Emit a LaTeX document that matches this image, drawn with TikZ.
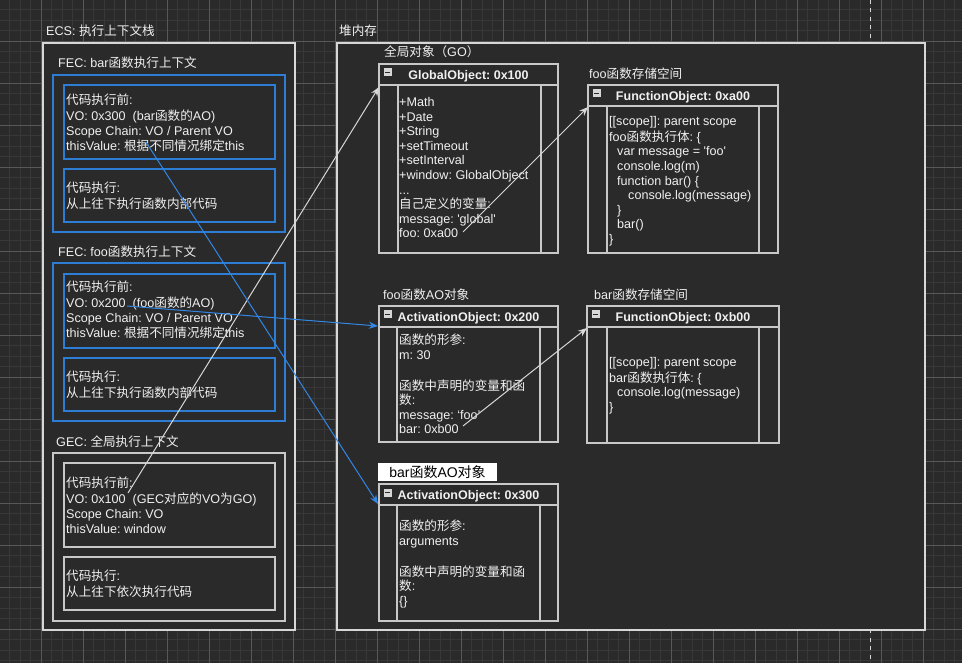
\documentclass[tikz,border=0pt]{standalone}
\usepackage{fontspec}
\setmainfont{Liberation Sans}
\newfontfamily\cjkfont{Noto Sans CJK SC}
\newfontfamily\latfont{Liberation Sans}
\usetikzlibrary{arrows.meta}
\frenchspacing
% automatic switch to the CJK font
\XeTeXinterchartokenstate=1
\newXeTeXintercharclass\cjkcls
\newcount\cjkc
\cjkc="3000
\loop
  \XeTeXcharclass\cjkc=\cjkcls
  \advance\cjkc by 1
\ifnum\cjkc<"A000 \repeat
\cjkc="FF00
\loop
  \XeTeXcharclass\cjkc=\cjkcls
  \advance\cjkc by 1
\ifnum\cjkc<"FFF0 \repeat
\XeTeXinterchartoks 0 \cjkcls = {\cjkfont}
\XeTeXinterchartoks 4095 \cjkcls = {\cjkfont}
\XeTeXinterchartoks \cjkcls 0 = {\latfont}
\XeTeXinterchartoks \cjkcls 4095 = {\latfont}

\definecolor{bg}{RGB}{42,42,42}
\definecolor{gridminor}{RGB}{56,56,56}
\definecolor{gridmajor}{RGB}{88,88,88}
\definecolor{boxc}{RGB}{215,215,215}
\definecolor{grayc}{RGB}{200,200,200}
\definecolor{bluec}{RGB}{45,125,212}
\definecolor{txtc}{RGB}{240,240,240}
\definecolor{arrg}{RGB}{215,215,215}
\definecolor{arrb}{RGB}{50,135,228}
\definecolor{iconc}{RGB}{215,215,215}

\newcommand\umlbox[8]{%
  \node[box, draw=grayc, minimum width=#4pt, minimum height=#5pt] (#1) at (#2,#3) {};
  \draw[boxline] (#1.north west) ++(0,21) -- ++(#4,0);
  \draw[boxline] (#1.north west) ++(#6,21) -- ++(0,{#5-21});
  \draw[boxline] (#1.north west) ++(#7,21) -- ++(0,{#5-21});
  \node[hdr] (#1-t) at ({#2+#4/2},{#3+15.3}) {#8};
  \node[icon] (#1-i) at ({#2+4.5},{#3+4.5}) {};
  \draw[line width=1.3pt, draw=bg] (#1-i.west) ++(1.5,0) -- ++(5,0);
}

\begin{document}
\begin{tikzpicture}[x=1pt,y=-1pt,
  box/.style={draw=boxc, fill=bg, line width=1.2pt, inner sep=0pt, outer sep=0pt, anchor=north west, rectangle},
  bbox/.style={box, draw=bluec},
  gbox/.style={box, draw=grayc},
  boxline/.style={draw=grayc, line width=1.2pt},
  txt/.style={text=txtc, anchor=north west, inner sep=0pt, align=left, font=\fontsize{12.6}{14.6}\selectfont},
  hdr/.style={text=txtc, anchor=base, inner sep=0pt, font=\fontsize{12.5}{14.6}\selectfont\bfseries},
  icon/.style={fill=iconc, draw=none, minimum width=8pt, minimum height=8pt, inner sep=0pt, outer sep=0pt, anchor=north west},
  garrow/.style={draw=arrg, line width=1pt, -{Stealth[length=9pt,width=7pt]}},
  barrow/.style={draw=arrb, line width=1pt, -{Stealth[length=9pt,width=7pt]}},
  minorg/.style={draw=gridminor, line width=0.8pt},
  majorg/.style={draw=gridmajor, line width=0.8pt},
]
\useasboundingbox (0,0) rectangle (962,663);
\fill[bg] (0,0) rectangle (962,663);
% grid
\foreach \i in {0,...,92} {\draw[minorg] ({-1+10.5*\i},0) -- ({-1+10.5*\i},663);}
\foreach \i in {0,...,63} {\draw[minorg] (0,{-1+10.5*\i}) -- (962,{-1+10.5*\i});}
\foreach \i in {1,...,23} {\draw[majorg] ({42*\i-1},0) -- ({42*\i-1},663);}
\foreach \i in {1,...,15} {\draw[majorg] (0,{42*\i-1}) -- (962,{42*\i-1});}
% page break line
\draw[draw=boxc, line width=1pt, dash pattern=on 4pt off 4.5pt] (870,0) -- (870,663);

% ---------- ECS ----------
\node[txt] (ecslbl) at (46,25) {\strut ECS: 执行上下文栈};
\node[box, minimum width=252pt, minimum height=587pt] (ecs) at (43,43) {};

\node[txt] (fecbarlbl) at (58,57) {\strut FEC: bar函数执行上下文};
\node[bbox, minimum width=232pt, minimum height=157pt] (fecbar) at (53,75) {};
\node[bbox, minimum width=211pt, minimum height=74pt] (bar1) at (64,85) {};
\node[bbox, minimum width=211pt, minimum height=53pt] (bar2) at (64,169) {};
\node[txt] (bar1t) at (66,94) {\strut 代码执行前:\\VO: 0x300\hspace*{7pt}(bar函数的AO)\\Scope Chain: VO / Parent VO\\thisValue: 根据不同情况绑定this};
\node[txt] (bar2t) at (66,182) {\strut 代码执行:\\从上往下执行函数内部代码};

\node[txt] (fecfoolbl) at (58,246) {\strut FEC: foo函数执行上下文};
\node[bbox, minimum width=232pt, minimum height=158pt] (fecfoo) at (53,263) {};
\node[bbox, minimum width=211pt, minimum height=74pt] (foo1) at (64,274) {};
\node[bbox, minimum width=211pt, minimum height=53pt] (foo2) at (64,358) {};
\node[txt] (foo1t) at (66,281) {\strut 代码执行前:\\VO: 0x200\hspace*{7pt}(foo函数的AO)\\Scope Chain: VO / Parent VO\\thisValue: 根据不同情况绑定this};
\node[txt] (foo2t) at (66,371) {\strut 代码执行:\\从上往下执行函数内部代码};

\node[txt] (geclbl) at (56,436) {\strut GEC: 全局执行上下文};
\node[gbox, minimum width=232pt, minimum height=168pt] (gec) at (53,453) {};
\node[gbox, minimum width=211pt, minimum height=84pt] (gec1) at (64,463) {};
\node[gbox, minimum width=211pt, minimum height=53pt] (gec2) at (64,557) {};
\node[txt] (gec1t) at (66,477) {\strut 代码执行前:\\VO: 0x100\hspace*{7pt}(GEC对应的VO为GO)\\Scope Chain: VO\\thisValue: window};
\node[txt] (gec2t) at (66,570) {\strut 代码执行:\\从上往下依次执行代码};

% ---------- Heap ----------
\node[txt] (heaplbl) at (339,25) {\strut 堆内存};
\node[box, minimum width=588pt, minimum height=587pt] (heap) at (337,43) {};

\node[txt] (golbl) at (384,46) {\strut 全局对象（GO）};
\umlbox{go}{379}{64}{179}{189}{19}{162}{GlobalObject: 0x100}
\node[txt] (got) at (399,96) {\strut +Math\\+Date\\+String\\+setTimeout\\+setInterval\\+window: GlobalObject\\...\\自己定义的变量:\\message: \textquotesingle global\textquotesingle\\foo: 0xa00};

\node[txt] (fooslbl) at (589,68) {\strut foo函数存储空间};
\umlbox{foa}{588}{85}{190}{168}{19}{171}{FunctionObject: 0xa00}
\node[txt] (foat) at (609,115) {\strut [[scope]]: parent scope\\foo函数执行体: \{\\\hspace*{8pt}var message = \textquotesingle foo\textquotesingle\\\hspace*{8pt}console.log(m)\\\hspace*{8pt}function bar() \{\\\hspace*{19pt}console.log(message)\\\hspace*{8pt}\}\\\hspace*{8pt}bar()\\\}};

\node[txt] (fooaolbl) at (383,289) {\strut foo函数AO对象};
\umlbox{aob}{379}{306}{179}{136}{18}{161}{ActivationObject: 0x200}
\node[txt] (aobt) at (399,334) {\strut 函数的形参:\\m: 30\\\strut\\函数中声明的变量和函\\数:\\message: ‘foo’\\bar: 0xb00};

\node[txt] (barslbl) at (594,289) {\strut bar函数存储空间};
\umlbox{fob}{587}{306}{192}{137}{20}{172}{FunctionObject: 0xb00}
\node[txt] (fobt) at (609,356) {\strut [[scope]]: parent scope\\bar函数执行体: \{\\\hspace*{8pt}console.log(message)\\\}};

\node[fill=white, text=black, inner sep=0pt, outer sep=0pt, anchor=north west, minimum width=119pt, minimum height=18pt, font=\fontsize{14}{16}\selectfont] (baraolbl) at (378,463) {bar函数AO对象};
\umlbox{aoc}{379}{484}{179}{137}{18}{161}{ActivationObject: 0x300}
\node[txt] (aoct) at (399,520) {\strut 函数的形参:\\arguments\\\strut\\函数中声明的变量和函\\数:\\\{\}};

% ---------- connectors ----------
\coordinate (s1) at (128,493); \coordinate (e1) at (379,87);
\coordinate (s2) at (463,232); \coordinate (e2) at (588,107);
\coordinate (s3) at (463,426); \coordinate (e3) at (587,328);
\coordinate (s4) at (127,306); \coordinate (e4) at (378,326);
\coordinate (s5) at (146,142); \coordinate (e5) at (378,504);
\draw[garrow] (s1) -- (e1);
\draw[garrow] (s2) -- (e2);
\draw[garrow] (s3) -- (e3);
\draw[barrow] (s4) -- (e4);
\draw[barrow] (s5) -- (e5);
\end{tikzpicture}
\end{document}
